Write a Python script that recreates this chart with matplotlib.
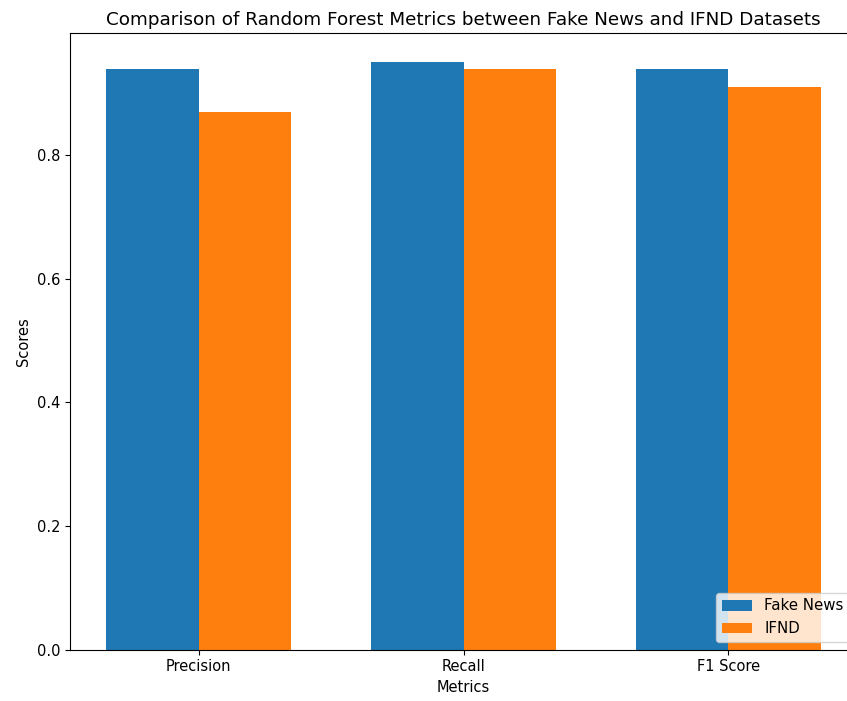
import matplotlib
matplotlib.use("agg")
import matplotlib.pyplot as plt
import numpy as np

metrics = ["Precision", "Recall", "F1 Score"]
fake_news_scores = [0.94, 0.95, 0.94]
ifnd_scores = [0.87, 0.94, 0.91]

W, H = 847, 701
fig = plt.figure(figsize=(W / 100, H / 100), dpi=100)
# axes run past the right edge, as in the cropped original
ax = fig.add_axes([70 / W, (H - 649.5) / H, 787 / W, 616.5 / H])

x = np.arange(len(metrics))
width = 0.35
ax.bar(x - width / 2, fake_news_scores, width, label="Fake News")
ax.bar(x + width / 2, ifnd_scores, width, label="IFND")

ax.set_xlabel("Metrics", fontsize=10.5)
ax.set_ylabel("Scores", fontsize=10.5)
ax.set_title("Comparison of Random Forest Metrics between Fake News and IFND Datasets",
             fontsize=13.2)
ax.set_xticks(x)
ax.set_xticklabels(metrics)
ax.tick_params(labelsize=10.5)
ax.legend(loc="lower right", fontsize=10.8)

fig.savefig("out.png", dpi=100)
